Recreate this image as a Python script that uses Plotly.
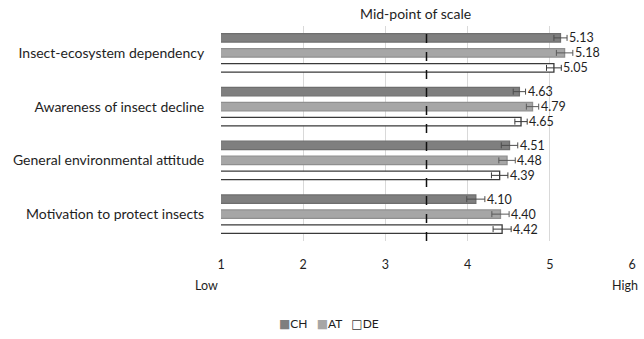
import plotly.graph_objects as go

categories = ["Insect-ecosystem dependency", "Awareness of insect decline",
              "General environmental attitude", "Motivation to protect insects"]
series_names = ["CH", "AT", "DE"]
ch_values = [5.13, 4.63, 4.51, 4.10]
at_values = [5.18, 4.79, 4.48, 4.40]
de_values = [5.05, 4.65, 4.39, 4.42]
ch_err = [0.08, 0.075, 0.10, 0.11]
at_err = [0.10, 0.075, 0.10, 0.105]
de_err = [0.09, 0.075, 0.10, 0.11]
x_ticks = [1, 2, 3, 4, 5, 6]
midpoint = 3.5

FONT = "Lato"
TXT = "#1e1e1e"
bargap = 0.163
bargroupgap = 0.44

styles = {
    "CH": dict(fill="#7f7f7f", line="#6e6e6e", err="#4d4d4d", glyph="■"),
    "AT": dict(fill="#a6a6a6", line="#8f8f8f", err="#5a5a5a", glyph="■"),
    "DE": dict(fill="#ffffff", line="#3a3a3a", err="#3a3a3a", glyph="□"),
}
values = {"CH": ch_values, "AT": at_values, "DE": de_values}
errs = {"CH": ch_err, "AT": at_err, "DE": de_err}

ypos = list(range(len(categories)))
fig = go.Figure()
n = len(series_names)
groupw = 1 - bargap
for i, name in enumerate(series_names):
    st = styles[name]
    fig.add_trace(go.Bar(
        y=ypos, x=values[name], orientation="h", name=name, base=0,
        marker=dict(color=st["fill"], line=dict(color=st["line"], width=1.3)),
        error_x=dict(type="data", array=errs[name], color=st["err"], thickness=1, width=3),
        showlegend=False,
    ))
    off = -groupw / 2 + (i + 0.5) * groupw / n
    for g, v, e in zip(ypos, values[name], errs[name]):
        fig.add_annotation(x=v + e, y=g + off, xref="x", yref="y", xanchor="left",
                           yanchor="middle", xshift=1, showarrow=False, text=f"{v:.2f}",
                           borderpad=0,
                           font=dict(family=FONT, size=12.5, color=TXT))

fig.add_shape(type="line", x0=midpoint, x1=midpoint, xref="x", yref="paper", y0=0, y1=1,
              line=dict(color="#111111", width=1.5, dash="dash"))
fig.add_annotation(x=midpoint, xref="x", y=1, yref="paper", yanchor="bottom", yshift=2,
                   xshift=-11, text="Mid-point of scale", showarrow=False,
                   font=dict(family=FONT, size=14, color=TXT))
fig.add_annotation(x=1, xref="x", y=0, yref="paper", yanchor="middle", xanchor="right",
                   yshift=-44, xshift=-1, text="Low", showarrow=False,
                   font=dict(family=FONT, size=12.5, color=TXT))
fig.add_annotation(x=6, xref="x", y=0, yref="paper", yanchor="middle", xanchor="center",
                   yshift=-44, xshift=-7, text="High", showarrow=False,
                   font=dict(family=FONT, size=12.5, color=TXT))

# compact legend line, as in the reference
legend_parts = []
for name in series_names:
    st = styles[name]
    col = st["fill"] if name != "DE" else st["line"]
    legend_parts.append(
        f'<span style="font-family:DejaVu Sans;color:{col}">{st["glyph"]}</span>{name}')
fig.add_annotation(x=(330 - 221) / 415, xref="paper", y=(241 - 323) / 215, yref="paper",
                   xanchor="center", yanchor="middle", showarrow=False,
                   text="\u00a0\u00a0\u00a0".join(legend_parts),
                   font=dict(family=FONT, size=12, color=TXT))

fig.update_layout(
    width=644, height=339,
    margin=dict(l=221, r=8, t=26, b=98),
    paper_bgcolor="white", plot_bgcolor="white",
    barmode="group", bargap=bargap, bargroupgap=bargroupgap,
    font=dict(family=FONT, size=12, color=TXT),
    xaxis=dict(range=[1, 6], tickvals=x_ticks, showgrid=True, gridcolor="#d9d9d9",
               gridwidth=1, zeroline=False, showline=False, ticks="outside",
               ticklen=12, tickcolor="rgba(0,0,0,0)",
               tickfont=dict(family=FONT, size=12.5, color=TXT)),
    yaxis=dict(range=[len(categories) - 0.5, -0.5], tickvals=ypos, ticktext=categories,
               showgrid=False, zeroline=False, showline=False, ticks="outside",
               ticklen=13, tickcolor="rgba(0,0,0,0)",
               tickfont=dict(family=FONT, size=14, color=TXT)),
    showlegend=False,
)
fig.write_html("out.html")
